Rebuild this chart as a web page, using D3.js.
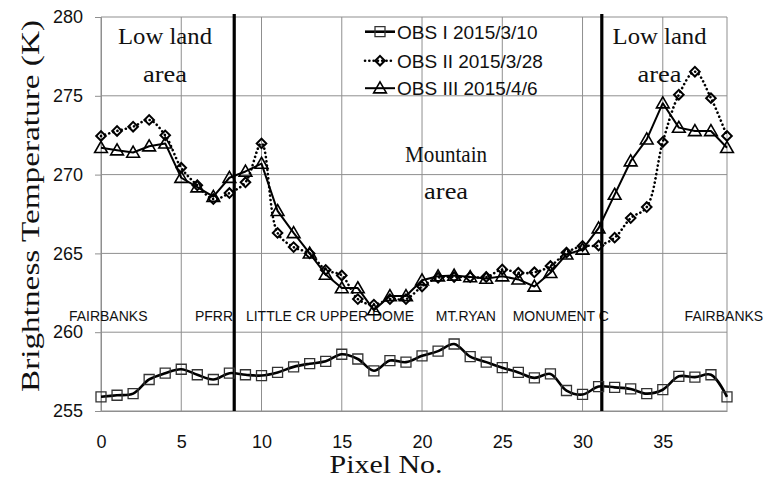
<!DOCTYPE html>
<html><head><meta charset="utf-8">
<script src="https://cdn.jsdelivr.net/npm/d3@7"></script>
<style>body{margin:0;background:#fff}</style>
</head><body>
<svg id="chart" width="764" height="482"></svg>
<script>
// ---------- data ----------
const pixelNo = [0,1,2,3,4,5,6,7,8,9,10,11,12,13,14,15,16,17,18,19,20,21,22,23,24,25,26,27,28,29,30,31,32,33,34,35,36,37,38,39];
const obs1 = [255.9,256.0,256.1,257.0,257.4,257.65,257.3,257.0,257.4,257.3,257.25,257.45,257.8,258.0,258.15,258.6,258.3,257.55,258.2,258.1,258.5,258.8,259.25,258.45,258.1,257.75,257.45,257.1,257.35,256.3,256.05,256.55,256.5,256.4,256.1,256.35,257.2,257.15,257.3,255.9];
const obs2 = [272.45,272.77,273.04,273.47,272.49,270.43,269.32,268.45,268.83,269.51,271.98,266.3,265.4,265.0,263.95,263.6,262.1,261.75,262.1,262.1,262.9,263.45,263.5,263.5,263.5,263.98,263.77,263.8,264.2,265.05,265.47,265.5,266.0,267.24,267.94,272.07,275.07,276.53,274.85,272.45];
const obs3 = [271.7,271.55,271.4,271.8,271.98,269.8,269.2,268.6,269.8,270.2,270.7,267.7,266.3,265.0,263.66,262.8,262.8,261.4,262.3,262.3,263.3,263.55,263.6,263.5,263.4,263.55,263.35,262.9,263.77,264.94,265.25,266.6,268.73,270.85,272.24,274.53,272.98,272.77,272.77,271.7];
const seriesNames = ["OBS I 2015/3/10","OBS II 2015/3/28","OBS III 2015/4/6"];
const xTicks = [0,5,10,15,20,25,30,35];
const yTicks = [255,260,265,270,275,280];
const boundaries = [8.3, 31.2];
const locationNames = ["FAIRBANKS","PFRR","LITTLE CR UPPER DOME","MT.RYAN","MONUMENT C","FAIRBANKS"];
const locationAt = [-2.0, 5.85, 9.03, 20.86, 25.65, 36.36];
const areaTexts = ["Low land","area","Mountain","area","Low land","area"];
const areaAtX = [3.99, 3.99, 21.5, 21.5, 34.8, 34.8];
const areaAtY = [278.3, 275.9, 270.8, 268.45, 278.3, 275.9];
const areaWidths = [94, 44, 82, 44, 94, 44];

// ---------- layout ----------
const svg = d3.select("#chart");
const L = 101, R = 727, T = 17, B = 411;
const x = d3.scaleLinear().domain([0,39]).range([L,R]);
const y = d3.scaleLinear().domain([255,280]).range([B,T]);
const sans = "'Liberation Sans', Arial, sans-serif";
const serif = "'Liberation Serif', 'Times New Roman', serif";
const grid = "#8f8f8f";

// gridlines
svg.append("g").selectAll("line").data(yTicks).join("line")
  .attr("x1", L).attr("x2", R).attr("y1", d => y(d)).attr("y2", d => y(d))
  .attr("stroke", grid).attr("stroke-width", 1);
svg.append("g").selectAll("line").data(xTicks.concat([39])).join("line")
  .attr("x1", d => x(d)).attr("x2", d => x(d)).attr("y1", T).attr("y2", B)
  .attr("stroke", grid).attr("stroke-width", 1);

// y axis
const yAxis = svg.append("g").attr("transform", `translate(${L},0)`)
  .call(d3.axisLeft(y).tickValues(yTicks).tickSize(6).tickPadding(12));
yAxis.select(".domain").attr("stroke", grid);
yAxis.selectAll(".tick line").attr("stroke", grid);
yAxis.selectAll("text").attr("font-family", sans).attr("font-size", 18).attr("fill", "#111");

// x axis
const xAxis = svg.append("g").attr("transform", `translate(0,${B})`)
  .call(d3.axisBottom(x).tickValues(xTicks).tickSize(0).tickPadding(24));
xAxis.select(".domain").attr("stroke", grid);
xAxis.selectAll("text").attr("font-family", sans).attr("font-size", 18).attr("fill", "#111");

// axis titles
svg.append("text").attr("x", 386).attr("y", 473).attr("text-anchor", "middle")
  .attr("font-family", serif).attr("font-size", 25).attr("fill", "#111")
  .attr("textLength", 113).attr("lengthAdjust", "spacingAndGlyphs").text("Pixel No.");
svg.append("text").attr("transform", "translate(39,206) rotate(-90)").attr("text-anchor", "middle")
  .attr("font-family", serif).attr("font-size", 25).attr("fill", "#111")
  .attr("textLength", 372).attr("lengthAdjust", "spacingAndGlyphs").text("Brightness Temperature (K)");

// location labels
svg.append("g").selectAll("text").data(locationNames).join("text")
  .attr("x", (d,i) => x(locationAt[i])).attr("y", 321)
  .attr("font-family", sans).attr("font-size", 14).attr("fill", "#111").text(d => d);

// area labels
svg.append("g").selectAll("text").data(areaTexts).join("text")
  .attr("x", (d,i) => x(areaAtX[i])).attr("y", (d,i) => y(areaAtY[i]))
  .attr("text-anchor", "middle").attr("font-family", serif).attr("font-size", 24).attr("fill", "#111")
  .attr("textLength", (d,i) => areaWidths[i]).attr("lengthAdjust", "spacingAndGlyphs").text(d => d);

// boundaries
svg.append("g").selectAll("line").data(boundaries).join("line")
  .attr("x1", d => x(d)).attr("x2", d => x(d)).attr("y1", T - 3).attr("y2", B)
  .attr("stroke", "#000").attr("stroke-width", 3.2);

// markers
const sq = d3.symbol().type(d3.symbolSquare).size(100);
const dm = d3.symbol().type(d3.symbolSquare).size(46);
const tr = d3.symbol().type(d3.symbolTriangle).size(70);

const series = [
  {vals: obs1, curve: d3.curveCatmullRom, dash: null, width: 2.6, sym: sq, rot: 0, dy: 0, mStroke: "#333", mWidth: 1.3},
  {vals: obs2, curve: d3.curveCatmullRom, dash: "0.1,4.2", width: 2.6, sym: dm, rot: 45, dy: 0, mStroke: "#000", mWidth: 2},
  {vals: obs3, curve: d3.curveLinear, dash: null, width: 2, sym: tr, rot: 0, dy: 1, mStroke: "#000", mWidth: 1.6}
];

series.forEach((s, k) => {
  const line = d3.line().x((d,i) => x(pixelNo[i])).y(d => y(d)).curve(s.curve);
  svg.append("path").datum(s.vals).attr("d", line).attr("fill", "none")
    .attr("stroke", "#000").attr("stroke-width", s.width)
    .attr("stroke-linecap", s.dash ? "round" : "butt").attr("stroke-linejoin", "round")
    .attr("stroke-dasharray", s.dash);
  svg.append("g").selectAll("path").data(s.vals).join("path")
    .attr("d", s.sym)
    .attr("transform", (d,i) => `translate(${x(pixelNo[i])},${y(d) + s.dy}) rotate(${s.rot})`)
    .attr("fill", "none").attr("stroke", s.mStroke).attr("stroke-width", s.mWidth);
});

// legend
const legRows = [38.5, 67.5, 95];
const leg = svg.append("g");
series.forEach((s, k) => {
  const cy = legRows[k] - 6.8;
  leg.append("line").attr("x1", 365).attr("x2", 395).attr("y1", cy).attr("y2", cy)
    .attr("stroke", "#000").attr("stroke-width", s.width)
    .attr("stroke-linecap", s.dash ? "round" : "butt").attr("stroke-dasharray", s.dash);
  leg.append("path").attr("d", s.sym).attr("transform", `translate(380,${cy + s.dy}) rotate(${s.rot})`)
    .attr("fill", "none").attr("stroke", s.mStroke).attr("stroke-width", s.mWidth);
  leg.append("text").attr("x", 397).attr("y", legRows[k]).attr("font-family", sans)
    .attr("font-size", 19).attr("fill", "#111").text(seriesNames[k]);
});
</script>
</body></html>
